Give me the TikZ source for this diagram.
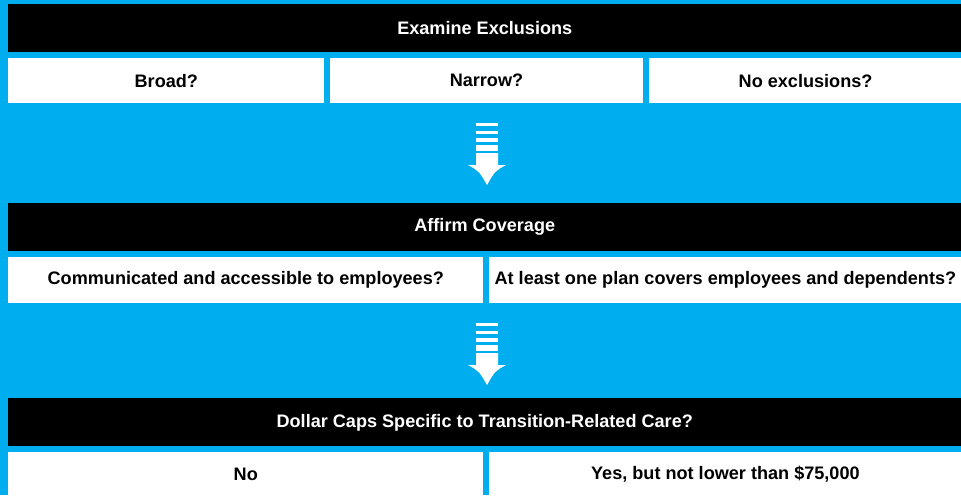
\documentclass[tikz,border=0pt]{standalone}
\usepackage{fontspec}
\setmainfont{Liberation Sans}
\usetikzlibrary{positioning}

\definecolor{skyblue}{HTML}{00AEEF}

\begin{document}
\begin{tikzpicture}[
  x=0.02cm, y=-0.02cm,
  node distance=0.1cm,
  bar/.style={fill=black, text=white, inner sep=0pt, minimum height=0.96cm,
    font=\fontsize{10.3}{12}\selectfont\bfseries},
  cell/.style={fill=white, text=black, inner sep=0pt, minimum height=0.9cm,
    font=\fontsize{10.3}{12}\selectfont\bfseries},
  stripearrow/.pic={
    \fill[white] (-11,0) rectangle (11,3);
    \fill[white] (-11,8) rectangle (11,11);
    \fill[white] (-11,15) rectangle (11,19);
    \fill[white] (-11,22) rectangle (11,28);
    \fill[white] (-11,30) -- (11,30) -- (11,42) -- (19,42)
      .. controls (8,48) .. (0,62) .. controls (-8,48) .. (-19,42)
      -- (-11,42) -- cycle;
  }
]

% background
\fill[skyblue] (0,0) rectangle (961,495);
\useasboundingbox (0,0) rectangle (961,495);

% Exclusions
\node[bar, anchor=north west, minimum width=19.06cm] (excl) at (8,4) {Examine Exclusions};
\node[cell, below right=0.1cm and 0cm of excl.south west, minimum width=6.32cm] (broad) {Broad?};
\node[cell, right=of broad, minimum width=6.26cm] (narrow) {Narrow?};
\node[cell, right=of narrow, minimum width=6.28cm] (noexcl) {No exclusions?};

\pic at (487,123) {stripearrow};

% Coverage
\node[bar, anchor=north west, minimum width=19.06cm] (cover) at (8,203) {Affirm Coverage};
\node[cell, below right=0.1cm and 0cm of cover.south west, minimum width=9.5cm, minimum height=0.92cm] (access) {Communicated and accessible to employees?};
\node[cell, right=of access, minimum width=9.46cm, minimum height=0.92cm] (depend) {At least one plan covers employees and dependents?};

\pic at (487,323) {stripearrow};

% Dollar caps
\node[bar, anchor=north west, minimum width=19.06cm] (caps) at (8,398) {Dollar Caps Specific to Transition-Related Care?};
\node[cell, below right=0.1cm and 0cm of caps.south west, minimum width=9.5cm, minimum height=0.88cm] (capno) {No};
\node[cell, right=of capno, minimum width=9.46cm, minimum height=0.88cm] (capyes) {Yes, but not lower than \$75,000};

\end{tikzpicture}
\end{document}
